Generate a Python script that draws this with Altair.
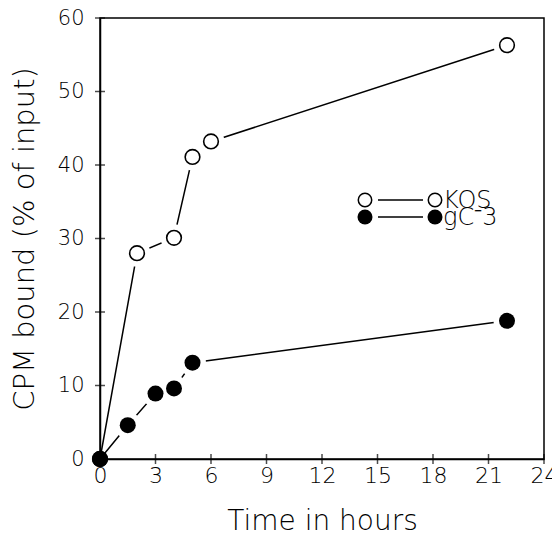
import altair as alt
import pandas as pd

# ---- data ----
kos_time = [0, 2, 4, 5, 6, 22]
kos_cpm = [0, 28.0, 30.1, 41.1, 43.2, 56.3]
gc3_time = [0, 1.5, 3, 4, 5, 22]
gc3_cpm = [0, 4.6, 8.9, 9.6, 13.1, 18.8]
x_ticks = [0, 3, 6, 9, 12, 15, 18, 21, 24]
y_ticks = [0, 10, 20, 30, 40, 50, 60]
series_names = ["KOS", "gC\u207b3"]
x_title = "Time in hours"
y_title = "CPM bound (% of input)"

df = pd.concat([
    pd.DataFrame({"time": kos_time, "cpm": kos_cpm, "series": series_names[0]}),
    pd.DataFrame({"time": gc3_time, "cpm": gc3_cpm, "series": series_names[1]}),
], ignore_index=True)
xt = pd.DataFrame({"t": x_ticks})
yt = pd.DataFrame({"t": y_ticks})

W, H = 444, 441
FONT = "DejaVu Sans"

xscale = alt.Scale(domain=[0, 24], nice=False, zero=False)
yscale = alt.Scale(domain=[0, 60], nice=False, zero=False)

X = alt.X("time:Q", scale=xscale, title=x_title,
          axis=alt.Axis(values=x_ticks, ticks=False, grid=False, labelPadding=6,
                        labelFlush=False, labelOverlap=False, labelFontSize=22,
                        titleFontSize=28, titleBaseline="alphabetic",
                        titleY=70, titleX=W / 2))
Y = alt.Y("cpm:Q", scale=yscale, title=y_title,
          axis=alt.Axis(values=y_ticks, ticks=False, grid=False, labelPadding=16,
                        labelFlush=False, labelOverlap=False, labelFontSize=21,
                        titleFontSize=29, titlePadding=18))

base = alt.Chart(df)

lines = base.mark_line(color="black", strokeWidth=1.5).encode(
    x=X, y=Y, detail="series:N", order="time:Q")

halo = base.transform_filter("datum.time > 0").mark_point(
    shape="circle", filled=True, color="white", size=729, opacity=1).encode(
    x=alt.X("time:Q", title=x_title), y=alt.Y("cpm:Q", title=y_title))

open_pts = base.transform_filter(f"datum.series == '{series_names[0]}'").mark_point(
    shape="circle", filled=True, fill="white", stroke="black", strokeWidth=1.6,
    size=215, opacity=1).encode(x=alt.X("time:Q", title=x_title), y=alt.Y("cpm:Q", title=y_title))

filled_pts = base.transform_filter(f"datum.series == '{series_names[1]}'").mark_point(
    shape="circle", filled=True, color="black", size=256, opacity=1).encode(
    x=alt.X("time:Q", title=x_title), y=alt.Y("cpm:Q", title=y_title))

xticks = alt.Chart(xt).mark_tick(color="black", thickness=1.5, size=10).encode(
    x=alt.X("t:Q", scale=xscale, title=x_title), y=alt.value(H))
yticks = alt.Chart(yt).mark_tick(color="black", thickness=1.5, size=10).encode(
    y=alt.Y("t:Q", scale=yscale, title=y_title), x=alt.value(0))

# ---- legend drawn inside the plot ----
r1, r2 = 182, 199
leg = []
for ry, nm, filled in [(r1, series_names[0], False), (r2, series_names[1], True)]:
    leg.append(alt.Chart(pd.DataFrame({"n": [nm]})).mark_rule(color="black", strokeWidth=1.5).encode(
        x=alt.value(278), x2=alt.value(323), y=alt.value(ry)))
    for cx in (265, 335):
        if filled:
            m = alt.Chart(pd.DataFrame({"n": [nm]})).mark_point(
                shape="circle", filled=True, color="black", size=225, opacity=1)
        else:
            m = alt.Chart(pd.DataFrame({"n": [nm]})).mark_point(
                shape="circle", filled=True, fill="white", stroke="black",
                strokeWidth=1.5, size=180, opacity=1)
        leg.append(m.encode(x=alt.value(cx), y=alt.value(ry)))
    leg.append(alt.Chart(pd.DataFrame({"n": [nm]})).mark_text(
        align="left", baseline="middle", fontSize=24, font=FONT, fontWeight=300,
        color="black").encode(x=alt.value(343), y=alt.value(ry + 1), text="n:N"))

chart = alt.layer(lines, halo, open_pts, filled_pts, xticks, yticks, *leg).properties(
    width=W, height=H,
    autosize=alt.AutoSizeParams(type="none"),
    padding={"left": 92, "top": 10, "right": 8, "bottom": 71},
    background="white",
).configure_view(stroke="black", strokeWidth=1.5).configure_axis(
    domainColor="black", domainWidth=1.5,
    labelFont=FONT, labelColor="black", labelFontWeight=300,
    titleFont=FONT, titleColor="black", titleFontWeight=300,
)

chart.save("out.html", embed_options={"renderer": "svg", "actions": False})
